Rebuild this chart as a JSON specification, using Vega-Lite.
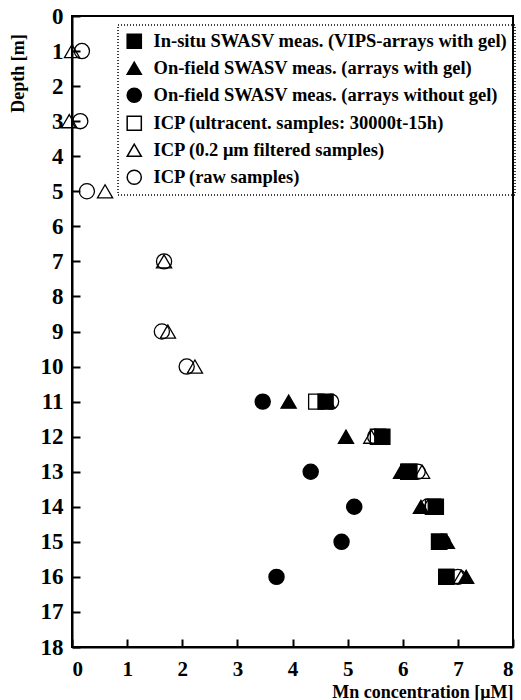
{
  "$schema": "https://vega.github.io/schema/vega-lite/v6.json",
  "width": 441,
  "height": 631,
  "autosize": {"type": "none"},
  "padding": {"left": 72, "top": 16, "right": 8, "bottom": 53},
  "background": "white",
  "config": {
    "font": "Liberation Serif",
    "view": {"stroke": "black", "strokeWidth": 2},
    "axis": {"domainColor": "black", "domainWidth": 2, "tickColor": "black", "tickWidth": 2, "labelColor": "black", "titleColor": "black", "grid": false, "labelFont": "Liberation Serif", "titleFont": "Liberation Serif", "labelFontWeight": "bold", "titleFontWeight": "bold"},
    "legend": {"strokeDash": [1, 2], "strokeWidth": 1.5, "strokeColor": "black"}
  },
  "data": {
    "values": [
      {"series": "ICP (0.2 μm filtered samples)", "depth": 1, "mn": 0.0},
      {"series": "ICP (raw samples)", "depth": 1, "mn": 0.18},
      {"series": "ICP (0.2 μm filtered samples)", "depth": 3, "mn": -0.05},
      {"series": "ICP (raw samples)", "depth": 3, "mn": 0.15},
      {"series": "ICP (raw samples)", "depth": 5, "mn": 0.27},
      {"series": "ICP (0.2 μm filtered samples)", "depth": 5, "mn": 0.6},
      {"series": "ICP (0.2 μm filtered samples)", "depth": 7, "mn": 1.67},
      {"series": "ICP (raw samples)", "depth": 7, "mn": 1.67},
      {"series": "ICP (raw samples)", "depth": 9, "mn": 1.63},
      {"series": "ICP (0.2 μm filtered samples)", "depth": 9, "mn": 1.74},
      {"series": "ICP (raw samples)", "depth": 10, "mn": 2.08},
      {"series": "ICP (0.2 μm filtered samples)", "depth": 10, "mn": 2.23},
      {"series": "ICP (ultracent. samples: 30000t-15h)", "depth": 11, "mn": 4.43},
      {"series": "ICP (0.2 μm filtered samples)", "depth": 11, "mn": 4.63},
      {"series": "ICP (raw samples)", "depth": 11, "mn": 4.7},
      {"series": "ICP (0.2 μm filtered samples)", "depth": 12, "mn": 5.43},
      {"series": "ICP (raw samples)", "depth": 12, "mn": 5.5},
      {"series": "ICP (ultracent. samples: 30000t-15h)", "depth": 12, "mn": 5.55},
      {"series": "ICP (ultracent. samples: 30000t-15h)", "depth": 13, "mn": 6.1},
      {"series": "ICP (raw samples)", "depth": 13, "mn": 6.27},
      {"series": "ICP (0.2 μm filtered samples)", "depth": 13, "mn": 6.35},
      {"series": "ICP (raw samples)", "depth": 14, "mn": 6.45},
      {"series": "ICP (0.2 μm filtered samples)", "depth": 14, "mn": 6.45},
      {"series": "ICP (ultracent. samples: 30000t-15h)", "depth": 14, "mn": 6.55},
      {"series": "ICP (ultracent. samples: 30000t-15h)", "depth": 15, "mn": 6.66},
      {"series": "ICP (raw samples)", "depth": 15, "mn": 6.72},
      {"series": "ICP (0.2 μm filtered samples)", "depth": 15, "mn": 6.75},
      {"series": "ICP (ultracent. samples: 30000t-15h)", "depth": 16, "mn": 6.79},
      {"series": "ICP (raw samples)", "depth": 16, "mn": 7.0},
      {"series": "ICP (0.2 μm filtered samples)", "depth": 16, "mn": 7.06},
      {"series": "On-field SWASV meas. (arrays without gel)", "depth": 11, "mn": 3.46},
      {"series": "On-field SWASV meas. (arrays without gel)", "depth": 13, "mn": 4.33},
      {"series": "On-field SWASV meas. (arrays without gel)", "depth": 14, "mn": 5.12},
      {"series": "On-field SWASV meas. (arrays without gel)", "depth": 15, "mn": 4.89},
      {"series": "On-field SWASV meas. (arrays without gel)", "depth": 16, "mn": 3.71},
      {"series": "On-field SWASV meas. (arrays with gel)", "depth": 11, "mn": 3.93},
      {"series": "On-field SWASV meas. (arrays with gel)", "depth": 12, "mn": 4.97},
      {"series": "On-field SWASV meas. (arrays with gel)", "depth": 13, "mn": 5.97},
      {"series": "On-field SWASV meas. (arrays with gel)", "depth": 14, "mn": 6.33},
      {"series": "On-field SWASV meas. (arrays with gel)", "depth": 15, "mn": 6.8},
      {"series": "On-field SWASV meas. (arrays with gel)", "depth": 16, "mn": 7.15},
      {"series": "In-situ SWASV meas. (VIPS-arrays with gel)", "depth": 11, "mn": 4.6},
      {"series": "In-situ SWASV meas. (VIPS-arrays with gel)", "depth": 12, "mn": 5.63},
      {"series": "In-situ SWASV meas. (VIPS-arrays with gel)", "depth": 13, "mn": 6.12},
      {"series": "In-situ SWASV meas. (VIPS-arrays with gel)", "depth": 14, "mn": 6.6},
      {"series": "In-situ SWASV meas. (VIPS-arrays with gel)", "depth": 15, "mn": 6.66},
      {"series": "In-situ SWASV meas. (VIPS-arrays with gel)", "depth": 16, "mn": 6.79}
    ]
  },
  "resolve": {"axis": {"x": "independent", "y": "independent"}},
  "layer": [
    {
      "mark": {"type": "point", "opacity": 0},
      "encoding": {
        "x": {
          "field": "mn", "type": "quantitative",
          "scale": {"domain": [0, 8], "nice": false, "zero": false},
          "axis": {"orient": "bottom", "values": [0,1,2,3,4,5,6,7,8], "tickSize": -8, "labels": false, "title": null, "domain": false}
        },
        "y": {
          "field": "depth", "type": "quantitative",
          "scale": {"domain": [0, 18], "nice": false, "zero": false, "reverse": true},
          "axis": {"orient": "left", "values": [0,1,2,3,4,5,6,7,8,9,10,11,12,13,14,15,16,17,18], "tickSize": -8, "labels": false, "title": null, "domain": false}
        }
      }
    },
    {
      "mark": {"type": "point", "filled": true, "stroke": "black", "strokeWidth": 1.3, "size": 230, "opacity": 1},
      "encoding": {
        "x": {
          "field": "mn", "type": "quantitative",
          "scale": {"domain": [0, 8], "nice": false, "zero": false},
          "axis": {"orient": "bottom", "values": [0,1,2,3,4,5,6,7,8], "ticks": false, "labelPadding": 28, "labelBaseline": "alphabetic", "labelFontSize": 21, "title": "Mn concentration [μM]", "titleFontSize": 18, "titleX": 441, "titleY": 50, "titleAlign": "right", "titleBaseline": "alphabetic"}
        },
        "y": {
          "field": "depth", "type": "quantitative",
          "scale": {"domain": [0, 18], "nice": false, "zero": false, "reverse": true},
          "axis": {"orient": "left", "values": [0,1,2,3,4,5,6,7,8,9,10,11,12,13,14,15,16,17,18], "ticks": false, "labelPadding": 9, "labelFontSize": 23, "title": "Depth [m]", "titleFontSize": 18, "titleX": -54, "titleY": 57, "titleAngle": 270, "titleAlign": "center", "titleBaseline": "middle"}
        },
        "shape": {
          "field": "series", "type": "nominal",
          "scale": {
            "domain": ["In-situ SWASV meas. (VIPS-arrays with gel)", "On-field SWASV meas. (arrays with gel)", "On-field SWASV meas. (arrays without gel)", "ICP (ultracent. samples: 30000t-15h)", "ICP (0.2 μm filtered samples)", "ICP (raw samples)"],
            "range": ["square", "triangle-up", "circle", "square", "triangle-up", "circle"]
          },
          "legend": {
            "title": null, "orient": "none", "legendX": 46, "legendY": 9,
            "padding": 7,
            "labelFontSize": 18.5, "labelFont": "Liberation Serif", "labelFontWeight": "bold", "labelColor": "black", "labelLimit": 0,
            "symbolSize": 200, "rowPadding": 7, "labelOffset": 10,
            "encode": {"symbols": {"update": {"stroke": {"value": "black"}, "strokeWidth": {"value": 1.3}}}}
          }
        },
        "fill": {
          "field": "series", "type": "nominal",
          "scale": {
            "domain": ["In-situ SWASV meas. (VIPS-arrays with gel)", "On-field SWASV meas. (arrays with gel)", "On-field SWASV meas. (arrays without gel)", "ICP (ultracent. samples: 30000t-15h)", "ICP (0.2 μm filtered samples)", "ICP (raw samples)"],
            "range": ["black", "black", "black", "transparent", "transparent", "transparent"]
          },
          "legend": {
            "title": null, "orient": "none", "legendX": 46, "legendY": 9,
            "padding": 7,
            "labelFontSize": 18.5, "labelFont": "Liberation Serif", "labelFontWeight": "bold", "labelColor": "black", "labelLimit": 0,
            "symbolSize": 200, "rowPadding": 7, "labelOffset": 10,
            "encode": {"symbols": {"update": {"stroke": {"value": "black"}, "strokeWidth": {"value": 1.3}}}}
          }
        }
      }
    }
  ]
}
